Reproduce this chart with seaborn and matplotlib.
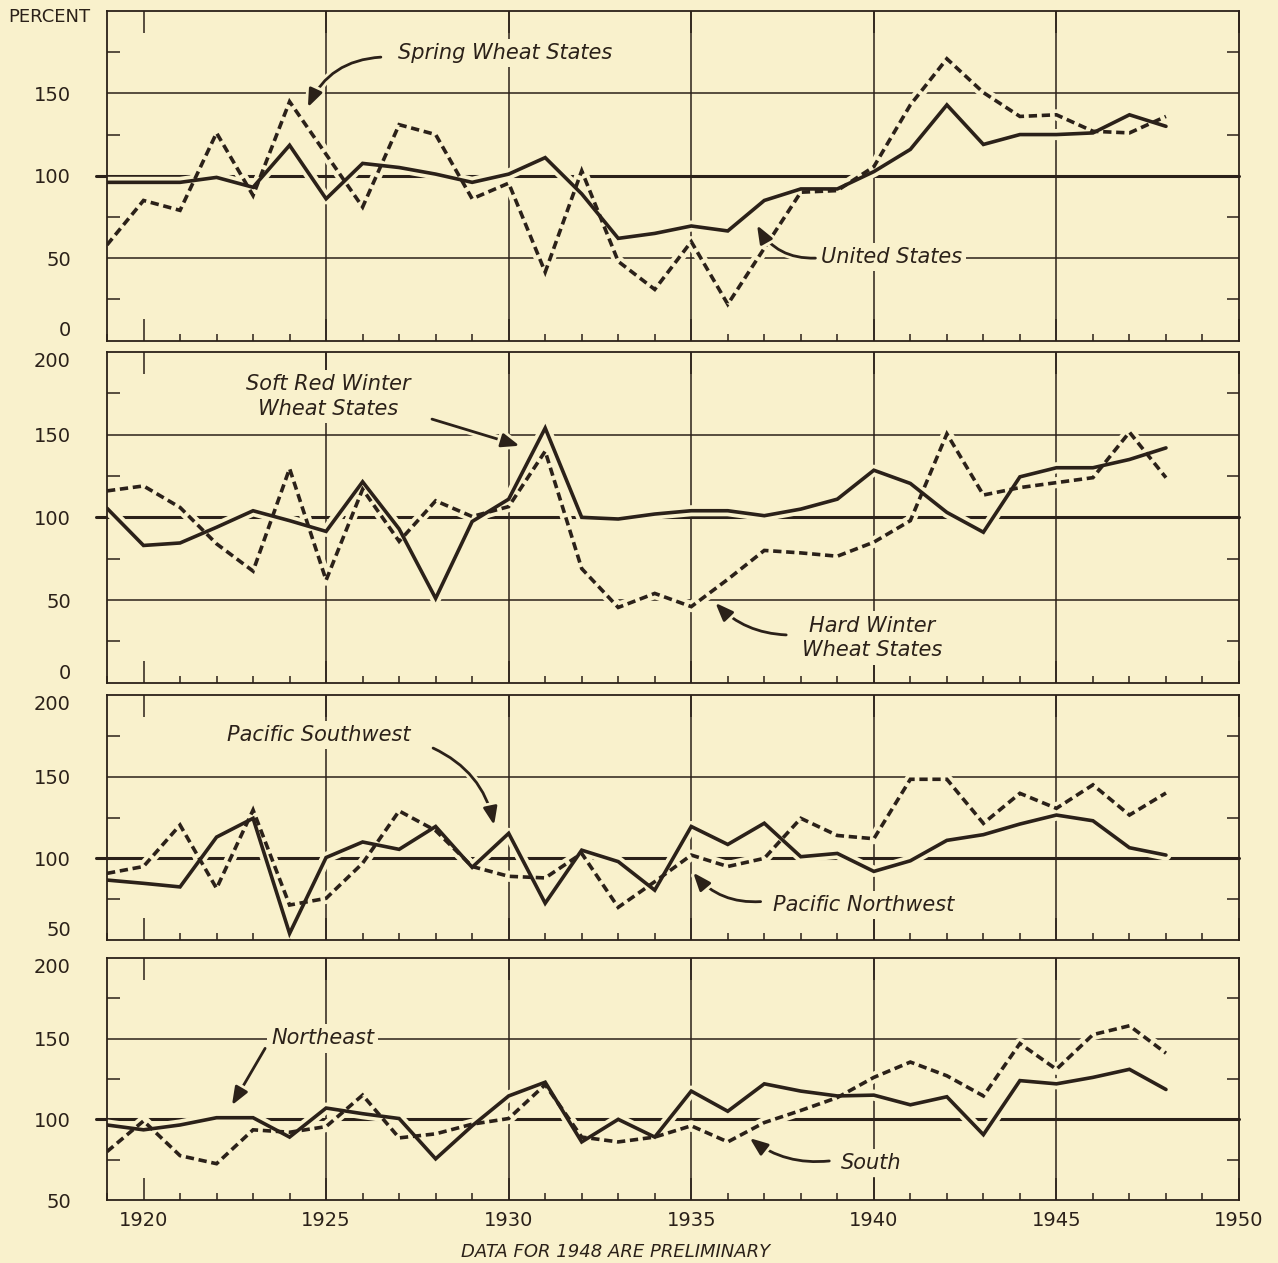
import matplotlib
matplotlib.use("Agg")
import matplotlib.pyplot as plt
import matplotlib.patheffects as pe
from matplotlib.ticker import MultipleLocator, FixedLocator
import seaborn as sns

# ---- data (percent of 1935-39 average) ----
years = list(range(1919, 1949))

united_states = [96, 96, 96, 99, 93, 118.5, 86, 107.5, 105, 101, 96, 101, 111, 89, 62,
                 65, 69.5, 66.5, 85, 92, 92, 102.5, 116, 143, 119, 125, 125, 126, 137, 130]
spring_wheat = [58, 85, 79, 126, 88, 145, 113, 81, 131, 125, 86, 95.5, 41.5, 103, 48,
                31, 60, 22, 56, 90, 91, 105.5, 143, 171, 150.5, 136, 137, 127, 126, 136]

soft_red_winter = [105.5, 83, 84.5, 94, 104, 98, 91.5, 121.5, 93, 51, 97.5, 111, 154, 100, 99,
                   102, 104, 104, 101, 105, 111, 128.5, 120.5, 103, 91, 124.5, 130, 130, 135, 142]
hard_winter = [116, 119, 106, 84, 67.5, 129.5, 62, 117, 85.5, 110, 100.5, 106.5, 140, 69, 45.5,
               54, 46, 62.5, 80, 78.5, 76.5, 85, 98, 150.5, 113.5, 118, 121, 124, 151.5, 124]

pacific_southwest = [86.7, 84.7, 82.5, 113, 124.5, 54, 100.5, 110, 105.5, 119.5, 94.5, 115.3, 72.5, 105, 98,
                     80.5, 119.5, 108.5, 121.5, 101, 103, 92, 98.5, 111, 114.5, 121, 126.5, 123, 106.5, 102]
pacific_northwest = [90.8, 95, 120.4, 81.6, 129.6, 71.4, 75.5, 97, 129, 117, 95, 89, 88, 103, 70,
                     85.7, 102, 95, 100, 124.5, 114, 112, 148.4, 148.4, 121.4, 139.8, 130.6, 145, 126.5, 140]

northeast = [96.5, 93.5, 96.5, 101, 101, 89, 107, 103.5, 100.5, 75.5, 96, 114.5, 123, 86, 100,
             89, 117.5, 105, 122, 117.5, 114.5, 115, 109, 114, 90.5, 124, 122, 126, 131, 118.5]
south = [80, 99, 77.5, 72.5, 93.5, 92, 95.5, 115, 88.5, 91, 97, 100.5, 121.5, 89, 86,
         89, 96, 86, 98, 105.5, 113.5, 126, 135.5, 127, 114.5, 147, 131, 152.5, 158, 141]

panel_ylims = [(0, 200), (0, 200), (50, 200), (50, 200)]
panel_yticks = [[0, 50, 100, 150], [0, 50, 100, 150, 200], [50, 100, 150, 200], [50, 100, 150, 200]]
x_ticks = [1920, 1925, 1930, 1935, 1940, 1945, 1950]

bg = "#f9f1cc"
ink = "#2b2119"

sns.set_theme(style="ticks", rc={"axes.facecolor": bg, "figure.facecolor": bg,
                                 "axes.edgecolor": ink, "axes.linewidth": 1.3})
plt.rcParams['font.family'] = ['DejaVu Sans']

W, H = 1278, 1263
fig = plt.figure(figsize=(W / 100, H / 100), dpi=100)

# panel frames in pixels (top, bottom)
left_px, right_px = 107, 1239
frames = [(11, 340.5), (352, 682.7), (695, 940), (958, 1200)]

DASH = (0, (2.3, 1.3))


def draw_pair(ax, solid, dashed):
    # paper-coloured halo first so grid lines break around the curves
    for vals in (solid, dashed):
        sns.lineplot(x=years, y=vals, ax=ax, color=bg, lw=8, zorder=3,
                     solid_capstyle='round', solid_joinstyle='round')
    sns.lineplot(x=years, y=solid, ax=ax, color=ink, lw=2.6, zorder=4,
                 solid_joinstyle='miter')
    sns.lineplot(x=years, y=dashed, ax=ax, color=ink, lw=2.6, zorder=4,
                 linestyle=DASH, dash_joinstyle='miter')


def label(ax, text, xy_text, tail, head, rad, ha='center'):
    ax.text(*xy_text, text, ha=ha, va='center', style='italic', fontsize=15,
            color=ink, zorder=7, multialignment='center', linespacing=1.3,
            bbox=dict(boxstyle='square,pad=0.2', fc=bg, ec='none'))
    ax.annotate('', xy=head, xytext=tail, zorder=7,
                arrowprops=dict(arrowstyle='-|>,head_length=0.9,head_width=0.35',
                                color=ink, lw=2.0, shrinkA=0, shrinkB=0,
                                connectionstyle=f'arc3,rad={rad}',
                                path_effects=[pe.withStroke(linewidth=6, foreground=bg)]))


series = [(united_states, spring_wheat), (soft_red_winter, hard_winter),
          (pacific_southwest, pacific_northwest), (northeast, south)]

axes = []
for i, ((top, bot), (lo, hi), yt, (solid, dashed)) in enumerate(
        zip(frames, panel_ylims, panel_yticks, series)):
    ax = fig.add_axes([left_px / W, 1 - bot / H, (right_px - left_px) / W, (bot - top) / H])
    ax.set_facecolor(bg)
    ax.set_xlim(1919, 1950)
    ax.set_ylim(lo, hi)

    # grid
    for yr in [1925, 1930, 1935, 1940, 1945]:
        ax.axvline(yr, color=ink, lw=1.1, zorder=1)
    for v in [50, 150]:
        if lo < v < hi:
            ax.axhline(v, color=ink, lw=1.1, zorder=1)
    ax.axhline(100, xmin=-0.01, xmax=1, color=ink, lw=2.2, zorder=1, clip_on=False)

    draw_pair(ax, solid, dashed)

    # ticks
    ax.xaxis.set_major_locator(FixedLocator(x_ticks))
    ax.xaxis.set_minor_locator(MultipleLocator(1))
    ax.tick_params(axis='x', which='major', direction='in', length=16, width=1.1,
                   top=True, bottom=True, color=ink, labelsize=14, labelcolor=ink, pad=8)
    ax.tick_params(axis='x', which='minor', direction='in', length=5, width=1.1,
                   top=False, bottom=True, color=ink)
    ax.yaxis.set_major_locator(FixedLocator(yt))
    ax.yaxis.set_minor_locator(FixedLocator([v for v in [25, 75, 125, 175] if lo < v < hi]))
    ax.tick_params(axis='y', which='major', length=0, pad=26, labelsize=14, labelcolor=ink)
    ax.tick_params(axis='y', which='minor', direction='in', length=9, width=1.1,
                   left=True, right=True, color=ink)
    ax.set_xlabel('')
    ax.set_ylabel('')
    if i < 3:
        ax.tick_params(axis='x', labelbottom=False)
    # nudge end labels inside the frame so neighbouring panels don't collide
    for tl, v in zip(ax.get_yticklabels(), yt):
        if v == hi and i > 0:
            tl.set_verticalalignment('top')
        elif v == lo and i < 3:
            tl.set_verticalalignment('bottom')
    for s in ax.spines.values():
        s.set_color(ink)
        s.set_linewidth(1.3)
        s.set_zorder(5)
    axes.append(ax)

# labels and arrows
label(axes[0], 'Spring Wheat States', (1929.9, 174.5), (1926.5, 172), (1924.5, 141.5), 0.3)
label(axes[0], 'United States', (1938.55, 50.7), (1938.4, 50), (1936.8, 70), -0.3, ha='left')
label(axes[1], 'Soft Red Winter\nWheat States', (1925.05, 173), (1927.9, 159.4), (1930.3, 143.3), 0.0)
label(axes[1], 'Hard Winter\nWheat States', (1939.96, 27), (1937.6, 28.9), (1935.66, 48.3), -0.2)
label(axes[2], 'Pacific Southwest', (1924.8, 175.5), (1927.93, 167.5), (1929.6, 120.3), -0.25)
label(axes[2], 'Pacific Northwest', (1937.25, 71.4), (1936.9, 73.5), (1935.05, 91.3), -0.25, ha='left')
label(axes[3], 'Northeast', (1924.9, 150.2), (1923.33, 144), (1922.42, 108.7), 0.0)
label(axes[3], 'South', (1939.1, 72.9), (1938.78, 74.2), (1936.6, 88.4), -0.2, ha='left')

fig.text(8 / W, 1 - 17 / H, 'PERCENT', ha='left', va='center', fontsize=13, color=ink)
fig.text(616 / W, 1 - 1252 / H, 'DATA FOR 1948 ARE PRELIMINARY', ha='center', va='center',
         fontsize=13, style='italic', color=ink)

fig.savefig('out.png', dpi=100, facecolor=bg)
